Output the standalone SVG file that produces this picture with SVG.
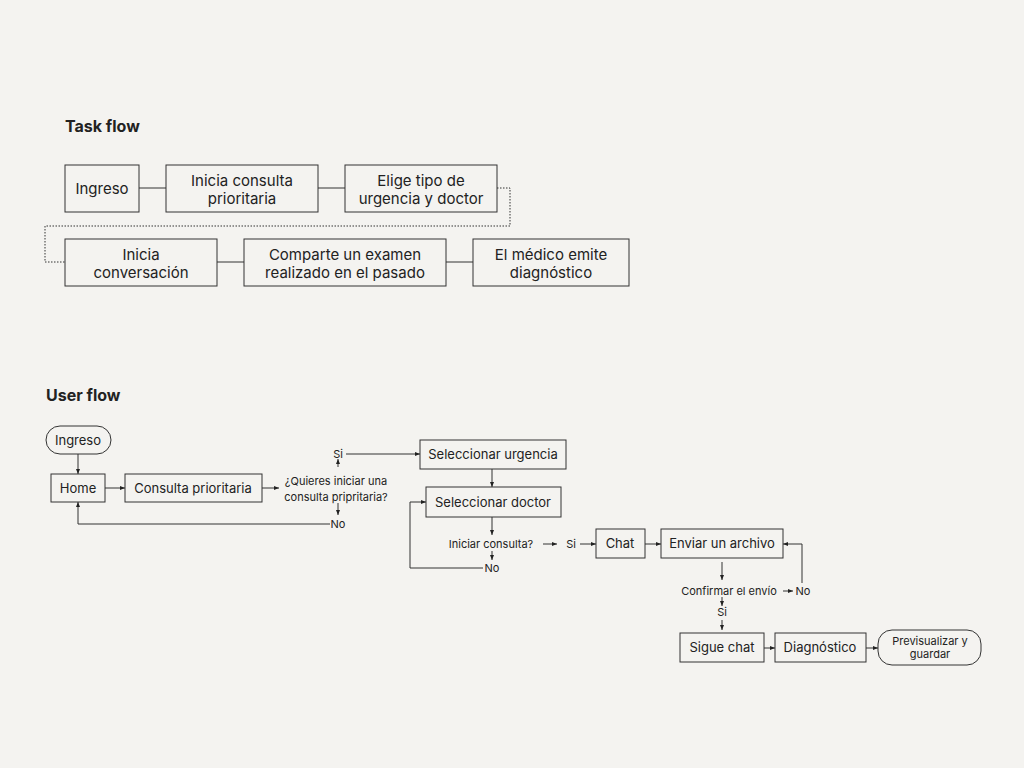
<svg xmlns="http://www.w3.org/2000/svg" width="1024" height="768" viewBox="0 0 1024 768">
<defs>
<marker id="a" markerWidth="6" markerHeight="6" refX="5" refY="3" orient="auto" markerUnits="userSpaceOnUse"><path d="M0,1 L5,3 L0,5 z" fill="#222"/></marker>
<style>
.b{fill:none;stroke:#333;stroke-width:1}
.t{font-family:Inter,"Liberation Sans",sans-serif;fill:#222;text-anchor:middle}
.big{font-size:15px}
.sm{font-size:13px}
.xs{font-size:11px}
.h{font-family:Inter,"Liberation Sans",sans-serif;font-size:16px;font-weight:700;fill:#222}
.c{fill:none;stroke:#333;stroke-width:1}
.ar{fill:none;stroke:#333;stroke-width:1;marker-end:url(#a)}
</style>
</defs>
<rect width="1024" height="768" fill="#f4f3f0"/>
<text class="h" x="65" y="132">Task flow</text>
<text class="h" x="46" y="401">User flow</text>
<g id="connectors">
<path class="c" d="M139,188H166M318,188H345M217,262H244M446,262H473"/>
<path class="c" d="M497,188H510V226H45V262H65" stroke-dasharray="1.5,1.5"/>
<path class="ar" d="M78,454V474"/>
<path class="ar" d="M105,488H125"/>
<path class="ar" d="M262,488H279"/>
<path class="ar" d="M338,467V459"/>
<path class="ar" d="M346,454H420"/>
<path class="ar" d="M338,503V515"/>
<path class="ar" d="M330,524H78V502"/>
<path class="ar" d="M492,469V487"/>
<path class="ar" d="M492,517V535"/>
<path class="ar" d="M543,544H557"/>
<path class="ar" d="M580,544H596"/>
<path class="ar" d="M492,551V560"/>
<path class="ar" d="M483,568H410V502H426"/>
<path class="ar" d="M645,544H661"/>
<path class="ar" d="M722,562V580"/>
<path class="ar" d="M783,591H793"/>
<path class="ar" d="M802,583V544H783"/>
<path class="ar" d="M722,597V606"/>
<path class="ar" d="M722,620V630"/>
<path class="ar" d="M764,648H775"/>
<path class="ar" d="M866,648H878"/>
</g>
<g id="t1"><rect class="b" x="65" y="165" width="74" height="47"/><text class="t big" x="102" y="194">Ingreso</text></g>
<g id="t2"><rect class="b" x="166" y="165" width="152" height="47"/><text class="t big" x="242" y="186">Inicia consulta</text><text class="t big" x="242" y="204">prioritaria</text></g>
<g id="t3"><rect class="b" x="345" y="165" width="152" height="47"/><text class="t big" x="421" y="186">Elige tipo de</text><text class="t big" x="421" y="204">urgencia y doctor</text></g>
<g id="t4"><rect class="b" x="65" y="239" width="152" height="47"/><text class="t big" x="141" y="260">Inicia</text><text class="t big" x="141" y="278">conversación</text></g>
<g id="t5"><rect class="b" x="244" y="239" width="202" height="47"/><text class="t big" x="345" y="260">Comparte un examen</text><text class="t big" x="345" y="278">realizado en el pasado</text></g>
<g id="t6"><rect class="b" x="473" y="239" width="156" height="47"/><text class="t big" x="551" y="260">El médico emite</text><text class="t big" x="551" y="278">diagnóstico</text></g>
<g id="u1"><rect class="b" x="46" y="426" width="65" height="28" rx="14"/><text class="t sm" x="78" y="445">Ingreso</text></g>
<g id="u2"><rect class="b" x="51" y="474" width="54" height="28"/><text class="t sm" x="78" y="493">Home</text></g>
<g id="u3"><rect class="b" x="125" y="474" width="137" height="28"/><text class="t sm" x="193" y="493">Consulta prioritaria</text></g>
<g id="u4"><text class="t xs" x="336" y="485">¿Quieres iniciar una</text><text class="t xs" x="336" y="501">consulta pripritaria?</text></g>
<g id="u5"><text class="t xs" x="338" y="458">Si</text><text class="t xs" x="338" y="528">No</text></g>
<g id="u6"><rect class="b" x="420" y="440" width="146" height="29"/><text class="t sm" x="493" y="459">Seleccionar urgencia</text></g>
<g id="u7"><rect class="b" x="426" y="487" width="135" height="30"/><text class="t sm" x="493" y="507">Seleccionar doctor</text></g>
<g id="u8"><text class="t xs" x="491" y="548">Iniciar consulta?</text><text class="t xs" x="571" y="548">Si</text><text class="t xs" x="492" y="572">No</text></g>
<g id="u9"><rect class="b" x="596" y="529" width="49" height="29"/><text class="t sm" x="620" y="548">Chat</text></g>
<g id="u10"><rect class="b" x="661" y="529" width="122" height="29"/><text class="t sm" x="722" y="548">Enviar un archivo</text></g>
<g id="u11"><text class="t xs" x="729" y="595">Confirmar el envío</text><text class="t xs" x="803" y="595">No</text><text class="t xs" x="722" y="616">Si</text></g>
<g id="u12"><rect class="b" x="680" y="633" width="84" height="29"/><text class="t sm" x="722" y="652">Sigue chat</text></g>
<g id="u13"><rect class="b" x="775" y="633" width="91" height="29"/><text class="t sm" x="820" y="652">Diagnóstico</text></g>
<g id="u14"><rect class="b" x="878" y="630" width="103" height="35" rx="14"/><text class="t xs" x="930" y="645">Previsualizar y</text><text class="t xs" x="930" y="658">guardar</text></g>
</svg>
